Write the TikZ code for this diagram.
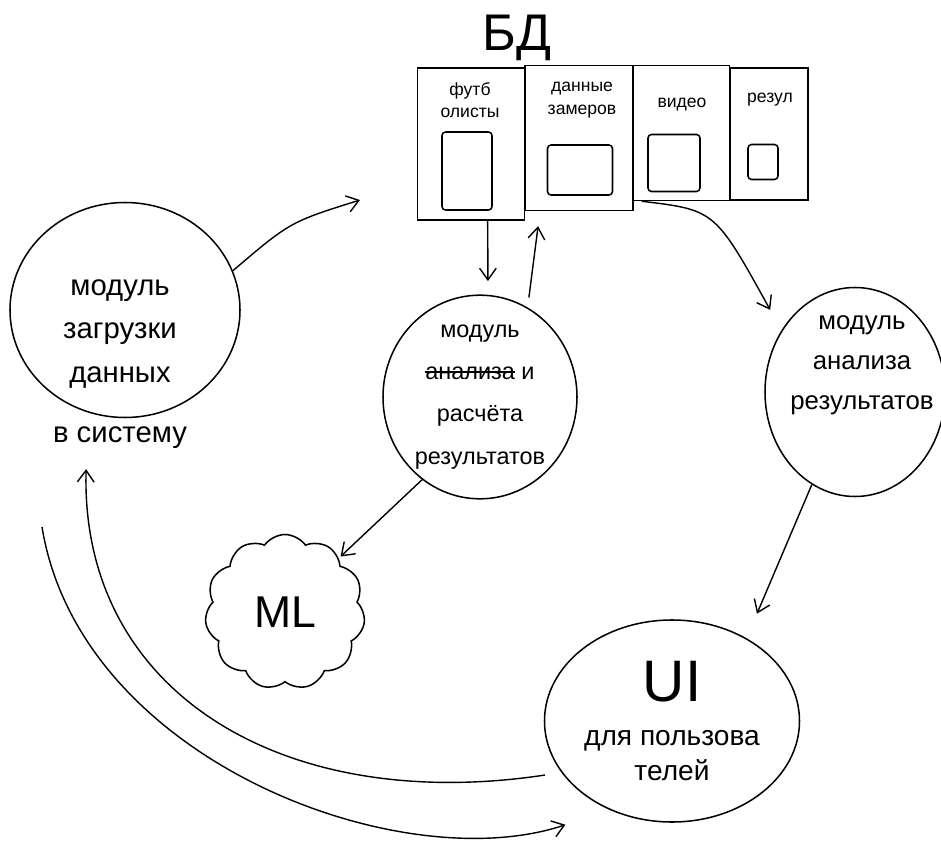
\documentclass[tikz,border=0pt]{standalone}
\usepackage{fontspec}
\setmainfont{Liberation Sans}
\usetikzlibrary{arrows.meta,shapes.geometric,shapes.symbols}

\newcommand{\strikeword}[1]{\setbox0\hbox{#1}\rlap{\rule[0.3em]{\wd0}{1.2pt}}\box0}

\tikzset{
	blob/.style={draw, ellipse, line width=1.3pt, inner sep=0pt},
	dbcol/.style={draw, rectangle, line width=1.3pt, inner sep=0pt},
	dbslot/.style={draw, rectangle, rounded corners=3pt, line width=1.3pt, inner sep=0pt},
	dbtxt/.style={align=center, font=\fontsize{15}{19}\selectfont},
	conn/.style={line width=1.2pt, -{Straight Barb[length=3.5mm,width=5mm]}},
}

\begin{document}
\begin{tikzpicture}[x=0.03cm, y=-0.03cm]
	\useasboundingbox (0,0) rectangle (941,846);

	% БД
	\node[font=\fontsize{44}{44}\selectfont] (dbtitle) at (517,38) {БД};
	\node[dbcol, minimum width=3.21cm, minimum height=4.56cm] (players) at (471,144) {};
	\node[dbcol, minimum width=3.24cm, minimum height=4.35cm] (measures) at (579,138) {};
	\node[dbcol, minimum width=2.91cm, minimum height=4.05cm] (video) at (681,133) {};
	\node[dbcol, minimum width=2.34cm, minimum height=3.96cm] (results) at (769,134) {};
	\node[dbtxt] (playerstxt) at (470,100) {футб\\олисты};
	\node[dbtxt] (measurestxt) at (582,100) {данные\\замеров};
	\node[dbtxt] (videotxt) at (682,105) {видео};
	\node[dbtxt] (resultstxt) at (770,100) {резул};
	\node[dbslot, minimum width=1.5cm, minimum height=2.34cm] (players-sq) at (467,171) {};
	\node[dbslot, minimum width=1.95cm, minimum height=1.5cm] (measures-sq) at (580,170) {};
	\node[dbslot, minimum width=1.56cm, minimum height=1.71cm] (video-sq) at (674,163) {};
	\node[dbslot, minimum width=0.9cm, minimum height=1.05cm] (results-sq) at (763,162) {};

	% модули
	\node[blob, minimum width=6.9cm, minimum height=6.45cm] (load) at (125,310) {};
	\node[align=center, font=\fontsize{25}{37}\selectfont] (loadtxt) at (120,364)
		{модуль\\загрузки\\данных\\[14pt]в систему};
	\node[blob, minimum width=5.82cm, minimum height=5.97cm, align=center,
		font=\fontsize{20}{36}\selectfont] (mid) at (480,397)
		{модуль\\\strikeword{анализа}\ и\\расчёта\\результатов};
	\node[blob, minimum width=5.4cm, minimum height=6.27cm] (right) at (855,392) {};
	\node[align=center, font=\fontsize{22}{34}\selectfont] (righttxt) at (862,365)
		{модуль\\анализа\\результатов};
	\node[draw, cloud, cloud puffs=11, cloud puff arc=110, aspect=1, line width=1.3pt,
		minimum width=4.8cm, minimum height=4.65cm, font=\fontsize{38}{38}\selectfont]
		(ml) at (285,612) {ML};
	\node[blob, minimum width=7.65cm, minimum height=6.06cm, align=center,
		font=\fontsize{24}{30}\selectfont] (ui) at (672,721)
		{\fontsize{50}{50}\selectfont UI\\[8pt]\fontsize{24}{30}\selectfont для пользова\\телей};

	\coordinate (dbin) at (360,200);
	\coordinate (loadout) at (42,527);

	\draw[conn] (load.20) .. controls (290,222) .. (dbin);
	\path[conn]
		([xshift=0.5cm]players.south) edge[shorten >=0.4cm] ([xshift=0.24cm]mid.north)
		(mid.62) edge[shorten <=0.3cm, shorten >=0.45cm] ([xshift=-1.17cm]measures.south)
		(mid.235) edge[shorten >=2pt] (ml.45)
		(right.245) edge[shorten >=0.8cm] (ui.48);
	\draw[conn, shorten >=0.7cm] ([xshift=0.3cm]video.south west) .. controls (715,210) .. (right.140);
	\draw[conn, shorten <=0.5cm, shorten >=1.7cm] (ui.205) .. controls (280,815) and (80,690) .. (load.250);
	\draw[conn, shorten >=1.4cm] (loadout) .. controls (80,760) and (400,880) .. (ui.235);
\end{tikzpicture}
\end{document}
